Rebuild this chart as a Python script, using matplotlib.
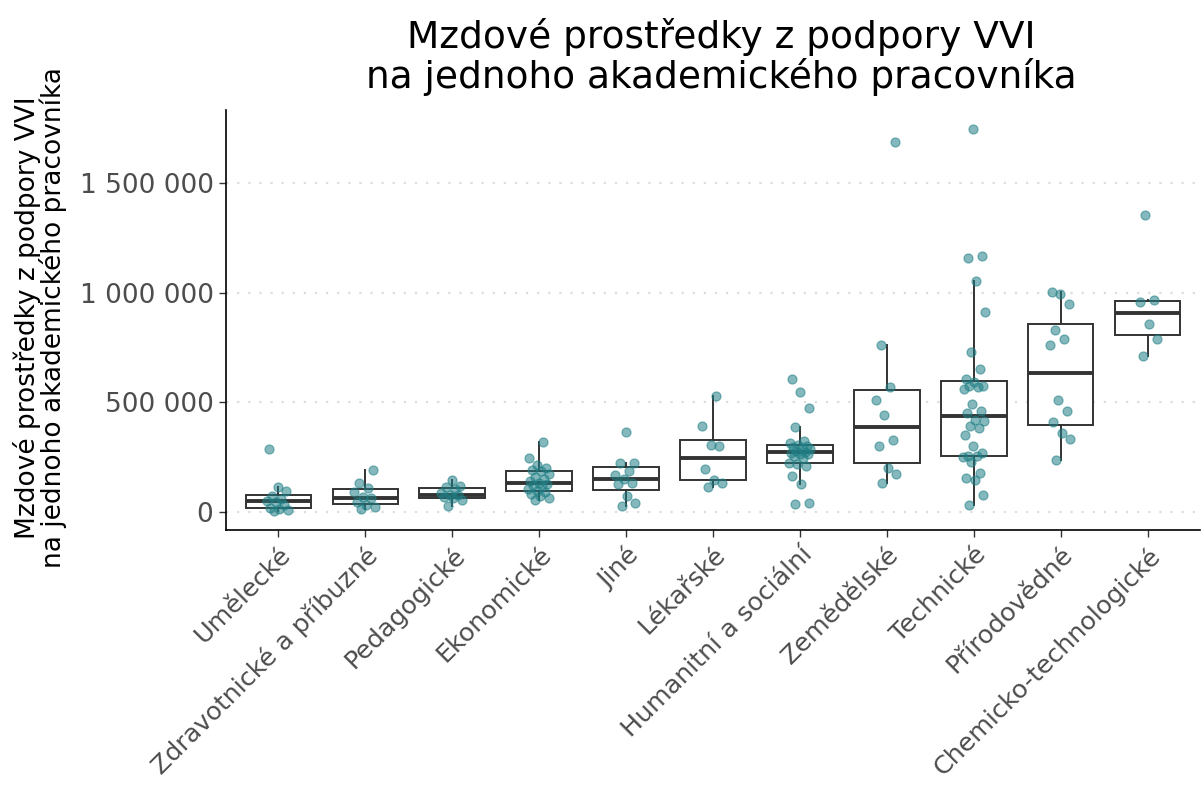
import matplotlib
matplotlib.use("Agg")
import matplotlib.pyplot as plt
from matplotlib.ticker import FuncFormatter
import numpy as np

plt.rcParams["font.family"] = ["DejaVu Sans"]

# categories ordered by median
categories = [
    "Umělecké",
    "Zdravotnické a příbuzné",
    "Pedagogické",
    "Ekonomické",
    "Jiné",
    "Lékařské",
    "Humanitní a sociální",
    "Zemědělské",
    "Technické",
    "Přírodovědné",
    "Chemicko-technologické",
]

# wage funds per academic worker (CZK), one value per faculty
umelecke = [3000, 6000, 10000, 18000, 28000, 44000, 50000, 58000, 70000, 93000, 113000, 287000]
zdravotnicke = [12000, 20000, 30000, 45000, 60000, 66000, 88000, 108000, 131000, 189000]
pedagogicke = [27000, 55000, 62000, 66000, 75000, 78000, 85000, 105000, 112000, 119000, 146000]
ekonomicke = [55000, 62000, 70000, 80000, 90000, 93000, 105000, 115000, 120000, 125000, 131000,
              140000, 150000, 160000, 170000, 185000, 190000, 200000, 215000, 246000, 317000]
jine = [24000, 40000, 73000, 124000, 131000, 151000, 169000, 184000, 220000, 223000, 365000]
lekarske = [111000, 131000, 146000, 195000, 299000, 303000, 393000, 528000]
humanitni = [35000, 40000, 124000, 165000, 210000, 218000, 223000, 246000, 255000, 261000, 265000,
             268000, 271000, 278000, 284000, 290000, 296000, 300000, 306000, 314000, 322000,
             388000, 474000, 548000, 607000]
zemedelske = [131000, 172000, 198000, 302000, 329000, 441000, 512000, 569000, 761000, 1687000]
technicke = [29000, 75000, 143000, 154000, 177000, 227000, 250000, 252000, 254000, 268000, 299000,
             348000, 380000, 390000, 413000, 420000, 450000, 462000, 490000, 561000, 570000,
             573000, 575000, 592000, 605000, 650000, 729000, 914000, 1054000, 1159000, 1168000,
             1748000]
prirodovedne = [238000, 334000, 360000, 409000, 462000, 508000, 761000, 790000, 829000, 950000,
                995000, 1005000]
chemicke = [711000, 790000, 855000, 960000, 965000, 1357000]

groups = [umelecke, zdravotnicke, pedagogicke, ekonomicke, jine, lekarske, humanitni,
          zemedelske, technicke, prirodovedne, chemicke]

y_ticks = [0, 500000, 1000000, 1500000]

title = "Mzdové prostředky z podpory VVI\nna jednoho akademického pracovníka"
ylabel = "Mzdové prostředky z podpory VVI\nna jednoho akademického pracovníka"

W, H = 1201, 787
fig = plt.figure(figsize=(W / 100, H / 100), dpi=100)
ax = fig.add_axes([226 / W, 1 - 530 / H, (1200 - 226) / W, (530 - 110) / H])

box_col = "#333333"
pos = np.arange(len(categories))
ax.boxplot(
    groups,
    positions=pos,
    widths=0.75,
    showfliers=False,
    patch_artist=True,
    boxprops=dict(facecolor="white", edgecolor=box_col, linewidth=1.4),
    medianprops=dict(color=box_col, linewidth=2.8),
    whiskerprops=dict(color=box_col, linewidth=1.4),
    capprops=dict(linewidth=0),
    zorder=2,
)

# jittered points (deterministic spread)
for i, vals in enumerate(groups):
    k = np.arange(len(vals))
    off = ((k * 0.618034 + 0.3) % 1 - 0.5) * 0.26
    ax.scatter(i + off, vals, s=42, color="#1f7f85", alpha=0.55,
               edgecolors="#1f7f85", linewidths=0.9, zorder=3)

ax.set_xlim(-0.6, len(categories) - 0.4)
ax.set_ylim(-84000, 1835000)
ax.set_yticks(y_ticks)
ax.yaxis.set_major_formatter(FuncFormatter(lambda v, p: f"{v:,.0f}".replace(",", " ")))
ax.set_xticks(pos)
ax.set_xticklabels(categories, rotation=45, ha="right", rotation_mode="anchor")

for s in ["top", "right"]:
    ax.spines[s].set_visible(False)
for s in ["left", "bottom"]:
    ax.spines[s].set_linewidth(1.2)
    ax.spines[s].set_color("black")

ax.tick_params(axis="both", direction="out", length=5, width=1, color="#333333",
               labelcolor="#4d4d4d", labelsize=19)
ax.tick_params(axis="x", pad=4, labelsize=18.3)
ax.tick_params(axis="y", pad=4)
ax.grid(axis="y", linestyle=(0, (1, 4)), color="#dddddd", linewidth=1.6, zorder=0)
ax.set_axisbelow(True)

fig.text(721 / W, 1 - 57 / H, title, ha="center", va="center", fontsize=27,
         color="black", linespacing=1.05)
fig.text(40 / W, 1 - 318 / H, ylabel, rotation=90, ha="center", va="center",
         fontsize=19, color="black", linespacing=0.95)

fig.savefig("out.png", dpi=100)
